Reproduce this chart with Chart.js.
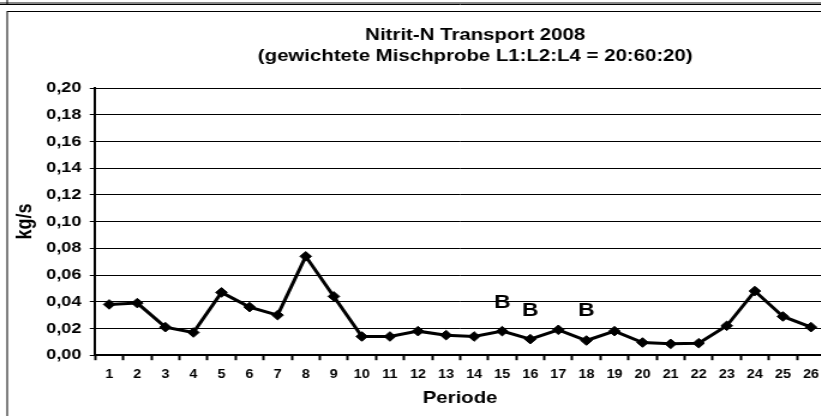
<!DOCTYPE html>
<html lang="de">
<head>
    <meta charset="UTF-8" />
    <title>Nitrit-N Transport 2008</title>
    <style>
        html, body {
            margin: 0;
            padding: 0;
            background: #ffffff;
            overflow: hidden;
        }
        /* the original picture is stretched horizontally, so we draw narrower and scale up */
        #wrap {
            position: absolute;
            left: 0;
            top: 0;
            width: 767px;
            height: 416px;
            transform: scaleX(1.2);
            transform-origin: 0 0;
        }
    </style>
</head>
<body>
<div id="wrap"><canvas id="chart"></canvas></div>

<script src="https://cdn.jsdelivr.net/npm/chart.js"></script>
<script>
    // Periods 1..26
    const periods = ["1", "2", "3", "4", "5", "6", "7", "8", "9", "10", "11", "12", "13",
        "14", "15", "16", "17", "18", "19", "20", "21", "22", "23", "24", "25", "26"];

    // Nitrite-N transport in kg/s
    const nitritTransport = [0.038, 0.039, 0.021, 0.017, 0.047, 0.036, 0.030, 0.074, 0.044,
        0.014, 0.014, 0.018, 0.015, 0.014, 0.018, 0.012, 0.019, 0.011, 0.018,
        0.0095, 0.0085, 0.009, 0.022, 0.048, 0.029, 0.021];

    // "B" markers above some periods (label, period, height in kg/s)
    const markLabels = ["B", "B", "B"];
    const markPeriods = ["15", "16", "18"];
    const markValues = [0.039, 0.033, 0.033];

    const yMin = 0;
    const yMax = 0.20;
    const yStep = 0.02;

    const titleLines = ["Nitrit-N Transport 2008", "(gewichtete Mischprobe L1:L2:L4 = 20:60:20)"];

    const fontFamily = "'Liberation Sans', Arial, sans-serif";

    // frame around the chart (like the Excel chart area) + two line title
    const framePlugin = {
        id: "frame",
        beforeDraw(chart) {
            const ctx = chart.ctx;
            ctx.save();
            ctx.fillStyle = "#ffffff";
            ctx.fillRect(0, 0, chart.width, chart.height);
            // bottom edge of the box above
            ctx.strokeStyle = "#888888";
            ctx.lineWidth = 2;
            ctx.beginPath();
            ctx.moveTo(0, 3);
            ctx.lineTo(chart.width, 3);
            ctx.stroke();
            ctx.strokeStyle = "#000000";
            ctx.lineWidth = 1;
            ctx.beginPath();
            ctx.moveTo(0, 4.5);
            ctx.lineTo(chart.width, 4.5);
            ctx.moveTo(6, 0);
            ctx.lineTo(6, 4);
            ctx.stroke();
            // chart frame
            ctx.strokeRect(6, 11.5, 780, 420);
            ctx.restore();
        },
        afterDraw(chart) {
            const ctx = chart.ctx;
            ctx.save();
            ctx.font = "bold 17px " + fontFamily;
            ctx.fillStyle = "#000000";
            ctx.textAlign = "center";
            ctx.textBaseline = "middle";
            ctx.fillText(titleLines[0], 396, 35.5);
            ctx.fillText(titleLines[1], 396, 56);
            ctx.restore();
        }
    };

    // the "B" labels
    const markPlugin = {
        id: "marks",
        afterDatasetsDraw(chart) {
            const ctx = chart.ctx;
            const xs = chart.scales.x;
            const ys = chart.scales.y;
            ctx.save();
            ctx.font = "bold 19px " + fontFamily;
            ctx.fillStyle = "#000000";
            ctx.textAlign = "center";
            ctx.textBaseline = "middle";
            markLabels.forEach((t, i) => {
                ctx.fillText(t, xs.getPixelForValue(periods.indexOf(markPeriods[i])),
                    ys.getPixelForValue(markValues[i]));
            });
            ctx.restore();
        }
    };

    const fmt = v => v.toFixed(2).replace(".", ",");

    new Chart(document.getElementById("chart"), {
        type: "line",
        data: {
            labels: periods,
            datasets: [{
                label: "Nitrit-N",
                data: nitritTransport,
                borderColor: "#000000",
                backgroundColor: "#000000",
                borderWidth: 3,
                tension: 0,
                pointStyle: "rectRot",
                pointRadius: 4.8,
                pointHoverRadius: 4.8,
                pointBorderWidth: 1
            }]
        },
        options: {
            responsive: true,
            maintainAspectRatio: false,
            animation: false,
            events: [],
            layout: {
                padding: { top: 88, right: 79.5, left: 10, bottom: 5 }
            },
            plugins: {
                legend: { display: false },
                tooltip: { enabled: false },
                title: { display: false }
            },
            scales: {
                x: {
                    offset: true,
                    grid: {
                        offset: true,
                        drawOnChartArea: false,
                        drawTicks: true,
                        tickLength: 5,
                        tickColor: "#000000",
                        tickWidth: 2
                    },
                    border: { color: "#000000", width: 2 },
                    ticks: {
                        color: "#000000",
                        padding: 7,
                        maxRotation: 0,
                        autoSkip: false,
                        font: { family: fontFamily, size: 12, weight: "bold" }
                    },
                    title: {
                        display: true,
                        text: "Periode",
                        color: "#000000",
                        padding: { top: 0, bottom: 2 },
                        font: { family: fontFamily, size: 17, weight: "bold" }
                    }
                },
                y: {
                    min: yMin,
                    max: yMax,
                    grid: {
                        color: "#000000",
                        lineWidth: 1,
                        tickLength: 4.5,
                        tickColor: "#000000"
                    },
                    border: { color: "#000000", width: 2 },
                    ticks: {
                        stepSize: yStep,
                        color: "#000000",
                        padding: 7,
                        callback: v => fmt(v),
                        font: { family: fontFamily, size: 15, weight: "bold" }
                    },
                    title: {
                        display: true,
                        text: "kg/s",
                        color: "#000000",
                        padding: { top: 0, bottom: 0 },
                        font: { family: fontFamily, size: 18, weight: "bold" }
                    }
                }
            }
        },
        plugins: [framePlugin, markPlugin]
    });
</script>
</body>
</html>
